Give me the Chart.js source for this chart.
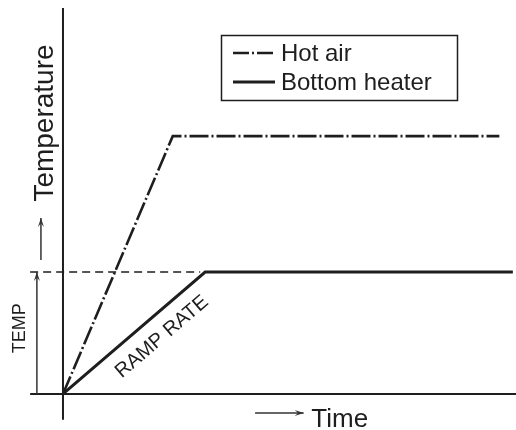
<!DOCTYPE html>
<html lang="en">
<head>
    <meta charset="UTF-8" />
    <title>Hot air / Bottom heater ramp</title>
    <script src="https://cdn.jsdelivr.net/npm/chart.js"></script>
    <style>
        body { margin: 0; background: #fff; }
    </style>
</head>
<body>
    <canvas id="rampChart" width="516" height="430"></canvas>

    <script>
        // series (x = time, y = temperature, arbitrary units)
        const seriesNames = ['Hot air', 'Bottom heater'];
        const hotAirX = [0, 2.44, 9.7];
        const hotAirY = [0, 66.8, 66.8];
        const heaterX = [0, 3.16, 10];
        const heaterY = [0, 31.6, 31.6];

        // dashed guide at the set temperature
        const guideX = [-0.73, 3.05];
        const guideY = [31.6, 31.6];

        // axis extents
        const xAxisRange = [-0.73, 10.1];
        const yAxisRange = [-6.7, 100];

        // text labels
        const yTitle = 'Temperature';
        const xTitle = 'Time';
        const tempLabel = 'TEMP';
        const rampLabel = 'RAMP RATE';

        const ink = '#1e1e1e';
        const font = '"Liberation Sans", Arial, Helvetica, sans-serif';

        const toPoints = (xs, ys) => xs.map((v, i) => ({ x: v, y: ys[i] }));

        function arrow(ctx, x1, y1, x2, y2) {
            ctx.beginPath();
            ctx.moveTo(x1, y1);
            ctx.lineTo(x2, y2);
            ctx.stroke();
            const a = Math.atan2(y2 - y1, x2 - x1);
            const len = 9, half = 3;
            ctx.beginPath();
            ctx.moveTo(x2, y2);
            ctx.lineTo(x2 - len * Math.cos(a) + half * Math.sin(a), y2 - len * Math.sin(a) - half * Math.cos(a));
            ctx.lineTo(x2 - 0.6 * len * Math.cos(a), y2 - 0.6 * len * Math.sin(a));
            ctx.lineTo(x2 - len * Math.cos(a) - half * Math.sin(a), y2 - len * Math.sin(a) + half * Math.cos(a));
            ctx.closePath();
            ctx.fill();
        }

        const axesPlugin = {
            id: 'axes',
            beforeDatasetsDraw(chart) {
                const { ctx, scales: { x, y } } = chart;
                ctx.save();
                ctx.strokeStyle = ink;
                ctx.lineWidth = 2;
                ctx.beginPath();
                ctx.moveTo(x.getPixelForValue(xAxisRange[0]), y.getPixelForValue(0));
                ctx.lineTo(x.getPixelForValue(xAxisRange[1]), y.getPixelForValue(0));
                ctx.moveTo(x.getPixelForValue(0), y.getPixelForValue(yAxisRange[0]));
                ctx.lineTo(x.getPixelForValue(0), y.getPixelForValue(yAxisRange[1]));
                ctx.stroke();
                ctx.restore();
            },
            afterDatasetsDraw(chart) {
                const { ctx, scales: { x, y } } = chart;
                const px = v => x.getPixelForValue(v);
                const py = v => y.getPixelForValue(v);
                ctx.save();
                ctx.strokeStyle = '#333';
                ctx.fillStyle = '#333';
                ctx.lineWidth = 1.5;

                // arrows
                arrow(ctx, px(-0.58), py(0), px(-0.58), py(heaterY[1]));
                arrow(ctx, px(-0.49), py(34.7), px(-0.49), py(45.6));
                arrow(ctx, px(4.27), py(-4.9), px(5.35), py(-4.9));

                ctx.fillStyle = ink;

                // Time
                ctx.font = '26px ' + font;
                ctx.textAlign = 'left';
                ctx.textBaseline = 'alphabetic';
                ctx.fillText(xTitle, px(5.52), py(-8.5));

                // Temperature (rotated)
                ctx.save();
                ctx.translate(px(-0.22), py(70.2));
                ctx.rotate(-Math.PI / 2);
                ctx.font = '28px ' + font;
                ctx.textAlign = 'center';
                ctx.fillText(yTitle, 0, 0);
                ctx.restore();

                // TEMP (rotated)
                ctx.save();
                ctx.translate(px(-0.84), py(17));
                ctx.rotate(-Math.PI / 2);
                ctx.font = '18px ' + font;
                ctx.textAlign = 'center';
                ctx.fillText(tempLabel, 0, 0);
                ctx.restore();

                // RAMP RATE along the heater slope
                const ang = Math.atan2(py(heaterY[1]) - py(0), px(heaterX[1]) - px(0));
                ctx.save();
                ctx.translate(px(2.2), py(14.8));
                ctx.rotate(ang);
                ctx.font = '20px ' + font;
                ctx.textAlign = 'center';
                ctx.textBaseline = 'middle';
                ctx.fillText(rampLabel, 0, 0);
                ctx.restore();

                // legend box
                const box = { left: 221, top: 35, w: 236, h: 65 };
                ctx.strokeStyle = ink;
                ctx.lineWidth = 1.5;
                ctx.strokeRect(box.left + 0.5, box.top + 0.5, box.w, box.h);
                ctx.font = '24px ' + font;
                ctx.textAlign = 'left';
                ctx.textBaseline = 'middle';
                const rowsY = [53, 82];
                chart.data.datasets.slice(0, 2).forEach((ds, i) => {
                    ctx.lineWidth = ds.borderWidth;
                    ctx.setLineDash(i === 0 ? [16, 3, 2, 3] : []);
                    ctx.beginPath();
                    ctx.moveTo(233, rowsY[i]);
                    ctx.lineTo(275, rowsY[i]);
                    ctx.stroke();
                    ctx.setLineDash([]);
                    ctx.fillText(ds.label, 281, rowsY[i] + 1);
                });
                ctx.restore();
            }
        };

        new Chart(document.getElementById('rampChart'), {
            type: 'line',
            data: {
                datasets: [
                    {
                        label: seriesNames[0],
                        data: toPoints(hotAirX, hotAirY),
                        borderColor: ink,
                        borderWidth: 2.6,
                        borderDash: [19, 3, 2, 3],
                        pointRadius: 0,
                        tension: 0
                    },
                    {
                        label: seriesNames[1],
                        data: toPoints(heaterX, heaterY),
                        borderColor: ink,
                        borderWidth: 3,
                        pointRadius: 0,
                        tension: 0
                    },
                    {
                        label: 'guide',
                        data: toPoints(guideX, guideY),
                        borderColor: ink,
                        borderWidth: 1.3,
                        borderDash: [8, 5],
                        pointRadius: 0
                    }
                ]
            },
            options: {
                responsive: false,
                animation: false,
                layout: { padding: 0 },
                plugins: {
                    legend: { display: false },
                    tooltip: { enabled: false }
                },
                scales: {
                    x: { type: 'linear', min: -1.4, max: 10.07, display: false },
                    y: { type: 'linear', min: -9.33, max: 102.07, display: false }
                }
            },
            plugins: [axesPlugin]
        });
    </script>
</body>
</html>
